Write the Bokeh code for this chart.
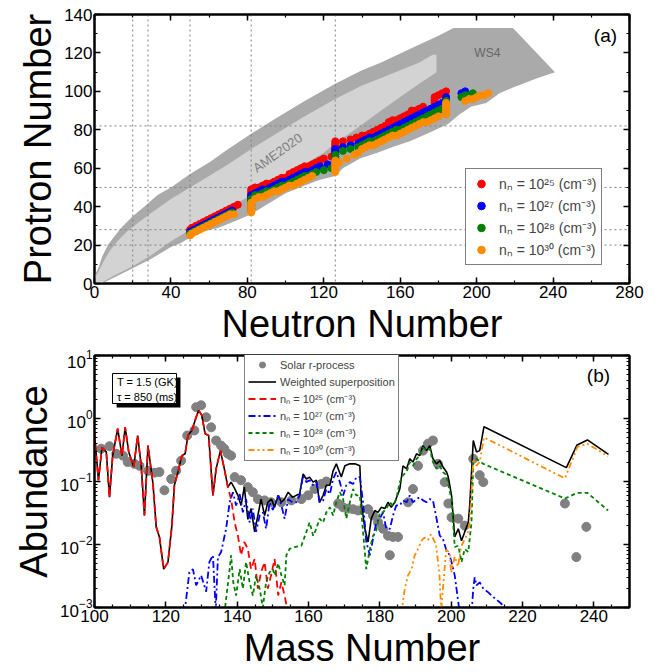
import numpy as np
from bokeh.plotting import figure
from bokeh.layouts import column
from bokeh.models import (Range1d, LinearAxis, LogAxis, Span, Legend, LegendItem, Label,
                          BoxAnnotation, SingleIntervalTicker, FixedTicker, LogTickFormatter,
                          CustomJSTickFormatter)
from bokeh.embed import file_html
from bokeh.resources import INLINE

FONT = "Liberation Sans"

# ---------------- panel (a) data ----------------
ws4_N = [0, 0, 2, 4, 7, 10, 14, 20, 26, 33, 40, 50, 60, 70, 82, 95, 110, 126, 140, 150,
         165, 180, 188, 219, 241, 232, 219, 212, 205, 197, 191, 185, 174, 165, 156, 148, 139, 130, 126, 118,
         110, 100, 90, 82, 75, 65, 57, 50, 45, 40, 30, 20, 10, 4]
ws4_Z = [0, 4, 8, 14, 20, 24, 29, 35, 40, 46, 50, 57, 63, 70, 78, 86, 95, 104, 111, 115,
         122, 129, 133, 133, 110, 107, 102, 99, 94, 92, 88, 83, 78, 74, 71, 68, 65, 60, 56, 54,
         51, 47, 41, 36, 33, 29, 27, 24, 21, 19, 13, 8, 3, 0]
ame_N = [0, 0, 2, 5, 8, 12, 17, 22, 30, 40, 50, 60, 70, 82, 95, 110, 126, 140, 150, 160,
         170, 177, 179, 179, 170, 160, 150, 139, 126, 120, 110, 100, 90, 82, 70, 60, 50, 40, 30, 20, 10, 3]
ame_Z = [0, 3, 6, 12, 17, 22, 27, 31, 37, 44, 50, 56, 62, 70, 78, 87, 96, 103, 107, 111,
         115, 119, 119, 110, 104, 97, 90, 82, 73, 68, 62, 56, 51, 46, 39, 33, 28, 22, 15, 9, 4, 0]
magic_N = [20, 28, 50, 82, 126]
magic_Z = [20, 28, 50, 82]

red_N = [50, 51, 53, 55, 57, 59, 61, 63, 65, 67, 69, 71, 73, 75,
         82, 82, 82, 82, 82, 82, 82, 82, 82,
         84, 86, 88, 90, 92, 94, 96, 98, 100, 102, 104, 106, 108, 110, 112, 114, 116, 118, 120, 124,
         126, 126, 126, 126, 126, 126, 126, 126,
         130, 134, 137, 140, 142, 144, 146, 148, 150, 152, 154, 156, 158, 160, 162, 164, 166, 168, 170, 172,
         178, 178, 178, 178, 180, 182, 184]
red_Z = [28, 29, 30, 31, 32, 33, 34, 35, 36, 37, 38, 39, 40, 41,
         41, 42, 43, 44, 45, 46, 47, 48, 49,
         50, 50, 51, 52, 52, 53, 54, 55, 55, 57, 58, 59, 60, 61, 61, 62, 63, 64, 65, 66,
         67, 68, 69, 70, 71, 72, 73, 74,
         74, 75, 76, 77, 77, 78, 79, 80, 81, 82, 84, 85, 85, 86, 87, 88, 90, 90, 91, 92,
         94, 95, 96, 97, 98, 99, 100]

blue_N = [50, 52, 54, 56, 58, 60, 62, 64, 66, 68, 70, 72,
          82, 82, 82, 82, 82, 82, 82, 82,
          84, 86, 88, 90, 92, 94, 96, 98, 100, 102, 104, 106, 108, 110, 112, 114, 116, 118, 122,
          126, 126, 126, 126, 126, 126, 126, 126,
          130, 134, 138, 140, 142, 144, 146, 148, 150, 152, 154, 156, 158, 160, 162, 164, 166, 168, 170, 172,
          174, 176, 178, 180, 182, 184, 184, 192, 194]
blue_Z = [27, 28, 29, 30, 31, 32, 33, 34, 35, 36, 37, 38,
          39, 40, 41, 42, 43, 44, 45, 46,
          47, 48, 49, 49, 50, 51, 52, 53, 53, 54, 55, 56, 57, 58, 58, 59, 60, 61, 62,
          63, 64, 65, 66, 67, 68, 69, 70,
          71, 72, 73, 74, 75, 76, 76, 77, 78, 79, 80, 81, 82, 83, 84, 85, 86, 87, 88, 89,
          90, 91, 92, 93, 94, 96, 97, 99, 100]

green_N = [50, 52, 54, 56, 58, 60, 62, 64, 66, 68, 70, 72,
           82, 82, 82, 82, 82, 82, 82,
           84, 86, 88, 90, 92, 94, 96, 98, 100, 102, 104, 106, 108, 110, 112, 114, 116, 120, 124,
           126, 126, 126, 126, 126, 126, 126,
           130, 134, 138, 140, 142, 144, 146, 148, 150, 152, 154, 156, 158, 160, 162, 164, 166, 168, 170, 172,
           174, 176, 178, 180, 182, 184, 184, 184, 184, 192, 194, 196, 198]
green_Z = [26, 27, 28, 29, 30, 31, 32, 33, 34, 35, 36, 37,
           38, 39, 40, 41, 42, 43, 44,
           46, 46, 47, 48, 48, 49, 50, 51, 51, 52, 53, 54, 55, 56, 56, 57, 58, 59, 60,
           61, 62, 63, 64, 65, 66, 67,
           69, 70, 71, 72, 73, 74, 74, 75, 76, 77, 78, 79, 80, 80, 81, 82, 83, 84, 85, 86,
           87, 88, 89, 90, 91, 92, 93, 94, 95, 97, 98, 98, 99]

orange_N = [50, 51, 53, 55, 57, 59, 61, 63, 65, 67, 69, 71, 73,
            82, 82, 82, 82, 82, 82,
            84, 86, 88, 90, 92, 94, 96, 98, 100, 102, 104, 106, 108, 110, 112, 114,
            126, 126, 126, 126, 126, 126, 126,
            128, 132, 136, 138, 140, 142, 144, 146, 148, 150, 152, 154, 156, 158, 160, 162, 164, 166, 168, 170,
            172, 174, 176, 178, 180, 184, 184, 184, 184, 184, 184, 184, 194, 196, 198, 200, 202, 204, 206]
orange_Z = [25, 26, 27, 28, 29, 30, 31, 32, 33, 34, 35, 36, 36,
            37, 38, 39, 40, 41, 42,
            44, 45, 45, 46, 47, 48, 48, 49, 50, 51, 51, 52, 53, 54, 55, 56,
            58, 59, 60, 61, 62, 63, 64,
            63, 65, 67, 68, 70, 71, 72, 72, 73, 74, 75, 76, 77, 77, 78, 79, 80, 81, 82, 83,
            84, 84, 85, 86, 87, 88, 89, 90, 91, 92, 93, 94, 95, 96, 96, 97, 98, 98, 99]

path_labels = ["nₙ = 10²⁵ (cm⁻³)", "nₙ = 10²⁷ (cm⁻³)", "nₙ = 10²⁸ (cm⁻³)", "nₙ = 10³⁰ (cm⁻³)"]

# ---------------- panel (b) data (abundances read as log10 values) ----------------
solar_A = [101.9, 104.2, 106.1, 108.0, 109.3, 111.2, 112.6, 115.0, 116.8, 118.2,
           119.6, 121.5, 122.9, 124.3, 126.0, 128.0, 128.5, 129.9, 131.3, 132.7,
           134.1, 135.5, 136.4, 137.4, 138.3, 139.3, 141.1, 143.0, 144.4, 145.8,
           147.7, 149.5, 152.4, 155.2, 158.0, 159.9, 161.7, 163.6, 165.0, 168.3,
           169.7, 171.1, 172.5, 173.9, 176.7, 178.1, 179.5, 180.9, 182.3, 182.8,
           183.7, 185.1, 187.9, 189.3, 190.7, 192.1, 193.5, 194.9, 196.3, 198.2,
           199.2, 200.1, 202.0, 203.8, 206.2, 208.0, 209.0, 231.9, 235.1, 237.9]
solar_log10 = [-0.48, -0.44, -0.56, -0.59, -0.69, -0.72, -0.75, -0.83, -0.86, -0.85,
               -1.14, -0.96, -0.83, -0.67, -0.27, -0.19, 0.18, 0.21, 0.02, -0.14,
               -0.35, -0.43, -0.48, -0.56, -0.59, -0.93, -0.98, -1.09, -1.17, -1.28,
               -1.30, -1.33, -1.33, -1.30, -1.28, -1.22, -1.12, -1.04, -1.00, -1.35,
               -1.41, -1.43, -1.44, -1.46, -1.44, -1.54, -1.65, -1.75, -1.86, -2.17,
               -1.88, -1.88, -1.33, -1.12, -0.75, -0.51, -0.40, -0.35, -0.72, -1.01,
               -1.35, -1.57, -1.59, -1.70, -0.64, -0.90, -1.01, -1.35, -2.20, -1.72]

black_A = [100.0, 101.1, 102.1, 103.3, 104.2, 105.1, 106.5, 107.7, 108.6, 109.6,
           111.0, 112.1, 113.1, 114.0, 115.0, 116.4, 117.3, 118.2, 119.4, 120.6,
           121.7, 122.4, 123.4, 124.5, 125.4, 126.2, 127.3, 128.2, 129.2, 130.1,
           131.0, 132.0, 133.2, 134.1, 135.3, 136.4, 137.4, 138.3, 139.2, 140.2,
           141.1, 142.0, 143.0, 143.9, 144.9, 145.8, 146.7, 147.7, 148.6, 149.6,
           150.5, 151.5, 152.4, 153.3, 154.3, 155.5, 156.6, 157.5, 158.5, 159.4,
           160.3, 161.3, 162.2, 163.1, 164.1, 165.0, 166.0, 166.9, 167.8, 169.2,
           170.2, 171.6, 173.0, 174.4, 174.8, 175.8, 176.7, 177.6, 178.6, 179.5,
           180.4, 181.4, 182.3, 183.2, 184.2, 185.6, 186.5, 187.5, 188.4, 189.3,
           190.3, 191.2, 192.1, 193.1, 194.0, 194.9, 195.9, 196.8, 197.7, 198.7,
           199.2, 200.1, 201.0, 202.0, 202.9, 203.8, 204.8, 205.2, 206.2, 207.1,
           208.0, 209.2, 232.3, 235.3, 238.2, 244.1]
black_log10 = [-0.24, -0.98, -0.46, -0.53, -1.25, -0.59, -0.16, -0.59, -0.14, -0.53,
               -0.77, -0.27, -0.75, -1.54, -0.43, -1.04, -1.72, -1.88, -2.39, -2.28,
               -1.70, -1.06, -0.85, -0.59, -0.56, -0.27, -0.19, -0.03, 0.13, 0.05,
               -0.24, -0.27, -1.22, -0.80, -0.51, -0.80, -1.09, -1.01, -1.10, -1.22,
               -1.38, -1.09, -1.60, -1.43, -1.80, -1.54, -1.28, -1.54, -1.33, -1.28,
               -1.41, -1.22, -1.33, -1.28, -1.17, -1.25, -1.22, -1.20, -0.88, -0.96,
               -0.93, -1.01, -0.98, -1.33, -1.22, -1.06, -1.06, -0.83, -0.72, -0.93,
               -0.75, -0.72, -0.72, -0.75, -1.33, -1.75, -1.96, -1.59, -1.46, -1.49,
               -1.41, -1.43, -1.33, -1.41, -1.33, -1.12, -0.75, -0.80, -0.64, -0.69,
               -0.56, -0.59, -0.43, -0.51, -0.43, -0.64, -0.72, -0.67, -0.77, -0.85,
               -0.93, -1.22, -1.88, -1.75, -1.94, -1.80, -1.65, -1.38, -0.35, -0.53,
               -0.51, -0.13, -0.78, -0.42, -0.34, -0.57]

red_A = [100.0, 101.1, 102.1, 103.3, 104.2, 105.1, 106.5, 107.7, 108.6, 109.6,
         111.0, 112.1, 113.1, 114.0, 115.0, 116.4, 117.3, 118.2, 119.4, 120.6,
         121.7, 122.4, 123.4, 124.5, 125.4, 126.2, 127.3, 128.2, 129.2, 130.1,
         131.0, 132.0, 133.2, 134.1, 135.3, 136.4, 137.4, 138.3, 139.3, 140.2,
         141.1, 142.0, 143.0, 143.9, 144.9, 145.8, 146.7, 147.7, 148.6, 149.5,
         150.5, 151.5, 152.4, 153.3, 154.3]
red_log10 = [-0.24, -0.98, -0.46, -0.53, -1.25, -0.59, -0.16, -0.59, -0.14, -0.53,
             -0.77, -0.27, -0.75, -1.54, -0.43, -1.04, -1.72, -1.88, -2.39, -2.28,
             -1.70, -1.06, -0.85, -0.59, -0.56, -0.27, -0.19, -0.03, 0.13, 0.05,
             -0.24, -0.27, -1.22, -0.80, -0.51, -0.80, -1.09, -1.28, -1.65, -1.86,
             -2.17, -1.96, -2.07, -2.39, -2.23, -2.70, -2.44, -2.28, -2.70, -2.49,
             -2.23, -2.81, -2.60, -2.81, -3.10]

blue_A = [125.2, 126.6, 127.6, 128.5, 129.9, 131.3, 132.2, 133.2, 134.0, 134.6,
          135.5, 136.9, 137.9, 138.8, 139.7, 140.7, 141.6, 142.5, 143.5, 144.4,
          145.3, 146.3, 147.2, 148.1, 149.1, 150.0, 151.5, 152.4, 153.3, 154.3,
          155.5, 156.6, 157.5, 158.5, 159.4, 160.3, 161.3, 162.2, 163.1, 164.1,
          165.0, 166.0, 166.9, 167.8, 168.8, 169.7, 170.6, 171.6, 172.5, 173.4,
          174.4, 175.3, 176.2, 177.2, 178.1, 179.0, 180.0, 180.9, 181.8, 182.8,
          183.7, 184.6, 185.6, 186.5, 187.5, 188.4, 189.3, 190.3, 191.2, 192.1,
          193.1, 194.0, 194.9, 195.9, 196.8, 197.7, 198.7, 199.6, 200.1, 201.0,
          202.0, 202.4, np.nan,
          205.7, 206.2, 206.6, 207.1, 208.0, 209.0, 210.4, 212.3, 214.1, 214.6]
blue_log10 = [-3.10, -2.44, -2.39, -2.65, -2.49, -2.75, -2.28, -2.17, -3.05, -2.20,
              -2.12, -1.75, -1.33, -1.17, -1.38, -1.20, -1.49, -1.28, -1.65, -1.43,
              -1.80, -1.54, -1.49, -1.75, -1.33, -1.45, -1.22, -1.38, -1.59, -1.28,
              -1.33, -1.33, -1.22, -0.90, -1.01, -0.98, -1.06, -1.01, -1.33, -1.30,
              -1.12, -1.20, -0.96, -0.85, -1.01, -1.22, -1.06, -1.01, -1.04, -0.93,
              -0.93, -1.33, -1.96, -2.17, -1.91, -1.65, -1.59, -1.49, -1.75, -1.75,
              -1.54, -1.38, -1.38, -1.30, -1.33, -1.22, -1.33, -1.28, -1.25, -1.30,
              -1.33, -1.28, -1.30, -1.59, -1.86, -1.91, -2.10, -2.17, -2.28, -2.49,
              -2.92, -3.10, np.nan,
              -3.10, -2.70, -2.52, -2.65, -2.60, -2.70, -2.76, -2.86, -2.94, -3.10]

green_A = [136.4, 137.9, 138.3, 138.9, 139.7, 140.7, 141.6, 142.5, 143.5, 144.4,
           145.3, 146.3, 147.2, 148.1, 149.1, 150.0, 150.5, 151.5, 152.4, 153.3,
           153.8, 154.7, 156.1, 158.0, 159.4, 160.3, 161.3, 162.2, 163.1, 164.1,
           165.0, 166.0, 166.9, 167.8, 168.8, 169.7, 170.6, 171.6, 172.5, 173.4,
           174.4, 175.3, 176.2, 177.2, 178.1, 179.0, 180.0, 180.9, 181.8, 182.8,
           183.7, 184.6, 185.6, 186.5, 187.5, 188.4, 189.3, 190.3, 191.2, 192.1,
           193.1, 194.0, 194.9, 195.9, 196.8, 197.7, 198.7, 199.2, 200.1, 201.0,
           202.0, 202.9, 203.8, 204.8, 205.7, 206.2, 207.1, 209.0, 231.9, 235.3,
           238.2, 244.0]
green_log10 = [-3.10, -2.39, -2.17, -2.60, -2.81, -2.39, -2.70, -2.28, -2.60, -2.81,
               -2.49, -2.70, -3.00, -2.60, -2.44, -2.39, -2.49, -2.30, -2.49, -2.65,
               -2.17, -2.07, -2.04, -2.02, -1.80, -1.65, -1.86, -1.75, -1.59, -1.65,
               -1.49, -1.41, -1.54, -1.33, -1.17, -1.28, -1.59, -1.33, -1.12, -1.22,
               -1.22, -1.80, -2.39, -2.07, -1.86, -1.78, -1.49, -1.49, -1.43, -1.33,
               -1.38, -1.28, -1.01, -0.90, -0.85, -0.69, -0.75, -0.64, -0.59, -0.46,
               -0.51, -0.48, -0.69, -0.80, -0.75, -0.85, -0.90, -1.06, -1.28, -2.04,
               -2.02, -2.28, -2.07, -2.12, -1.65, -0.69, -0.64, -0.72, -1.27, -1.18,
               -1.18, -1.46]

orange_A = [186.0, 187.0, 187.9, 188.9, 189.8, 190.7, 191.7, 192.5, 193.5, 194.3,
            195.7, 196.7, 197.2, 198.6, 199.6, 200.0, 201.0, 201.9, 202.8, 203.8,
            204.7, 205.2, 206.2, 207.1, 208.0, 209.2, 231.9, 235.4, 238.2, 244.0]
orange_log10 = [-3.10, -2.70, -2.49, -2.39, -2.17, -2.07, -1.94, -1.89, -1.93, -1.84,
                -1.99, -2.46, -3.05, -2.08, -2.13, -2.45, -2.19, -2.35, -2.03, -1.92,
                -1.81, -1.65, -0.64, -0.75, -0.69, -0.30, -0.95, -0.45, -0.40, -0.60]

line_labels = ["Solar r-process", "Weighted superposition"] + path_labels


def to_abund(logs):
    return np.power(10.0, np.array(logs, dtype=float))


def style_axis(ax, ticker, show_labels=True, formatter=None):
    ax.ticker = ticker
    if formatter is not None:
        ax.formatter = formatter
    ax.major_tick_in = 6
    ax.major_tick_out = 0
    ax.minor_tick_in = 3
    ax.minor_tick_out = 0
    ax.major_tick_line_width = 1.5
    ax.minor_tick_line_width = 1.2
    ax.major_tick_line_color = "black"
    ax.minor_tick_line_color = "black"
    ax.axis_line_width = 2
    ax.axis_line_color = "black"
    ax.major_label_text_font = FONT
    ax.major_label_text_font_size = "17px"
    ax.major_label_text_color = "black"
    ax.major_label_standoff = 2
    ax.axis_label_text_font = FONT
    ax.axis_label_text_font_size = "38px"
    ax.axis_label_text_font_style = "normal"
    ax.axis_label_text_color = "black"
    ax.axis_label_standoff = 2
    if not show_labels:
        ax.formatter = CustomJSTickFormatter(code="return ''")
        ax.major_label_standoff = 0


# ================= panel (a) =================
p1 = figure(width=668, height=349, x_range=Range1d(0, 280), y_range=Range1d(0, 140),
            output_backend="svg", toolbar_location=None,
            min_border_left=94, min_border_right=39, min_border_top=14, min_border_bottom=66)
p1.grid.visible = False
p1.outline_line_color = "black"
p1.outline_line_width = 2
p1.background_fill_color = "white"
p1.border_fill_color = "white"

r_ws4 = p1.patch(ws4_N, ws4_Z, fill_color="#aaaaaa", line_color=None)
r_ws4.level = "image"
r_ame = p1.patch(ame_N, ame_Z, fill_color="#d3d3d3", line_color=None)
r_ame.level = "image"

for n in magic_N:
    p1.add_layout(Span(location=n, dimension="height", line_color="#808080",
                       line_dash="2 3", line_width=1, level="underlay"))
for z in magic_Z:
    p1.add_layout(Span(location=z, dimension="width", line_color="#808080",
                       line_dash="2 3", line_width=1, level="underlay"))

path_renderers = []
for N, Z, col in [(red_N, red_Z, "#ff0000"), (blue_N, blue_Z, "#0000ff"),
                  (green_N, green_Z, "#008000"), (orange_N, orange_Z, "#ff8c00")]:
    path_renderers.append(p1.scatter(N, Z, size=7, fill_color=col, line_color=col))

style_axis(p1.xaxis[0], SingleIntervalTicker(interval=40, num_minor_ticks=2))
style_axis(p1.yaxis[0], SingleIntervalTicker(interval=20, num_minor_ticks=2))
p1.xaxis[0].axis_label = "Neutron Number"
p1.yaxis[0].axis_label = "Protron Number"
ax_top = LinearAxis()
style_axis(ax_top, SingleIntervalTicker(interval=40, num_minor_ticks=2), show_labels=False)
p1.add_layout(ax_top, "above")
ax_right = LinearAxis()
style_axis(ax_right, SingleIntervalTicker(interval=20, num_minor_ticks=2), show_labels=False)
p1.add_layout(ax_right, "right")

p1.add_layout(Label(x=205.6, y=120.2, text="WS4", text_font=FONT, text_font_size="12px",
                    text_color="#666666", text_align="center", text_baseline="middle"))
p1.add_layout(Label(x=95.8, y=68.0, text="AME2020", angle=0.62, text_font=FONT,
                    text_font_size="13px", text_color="#808080", text_align="center",
                    text_baseline="middle"))
p1.add_layout(Label(x=267.4, y=129.0, text="(a)", text_font=FONT, text_font_size="19px",
                    text_color="black", text_align="center", text_baseline="middle"))

leg1 = Legend(items=[LegendItem(label=lab, renderers=[r])
                     for lab, r in zip(path_labels, path_renderers)],
              location=(371, 18), margin=0, padding=5, spacing=3,
              glyph_width=20, glyph_height=19, label_height=19, label_standoff=8,
              label_text_font=FONT, label_text_font_size="14px",
              border_line_color="black", border_line_width=1,
              background_fill_color="white", background_fill_alpha=1.0)
p1.add_layout(leg1)

# ================= panel (b) =================
p2 = figure(width=668, height=323, x_range=Range1d(100, 250), y_range=Range1d(1e-3, 10),
            y_axis_type="log", output_backend="svg", toolbar_location=None,
            min_border_left=93, min_border_right=39, min_border_top=6, min_border_bottom=65)
p2.grid.visible = False
p2.outline_line_color = "black"
p2.outline_line_width = 2
p2.background_fill_color = "white"
p2.border_fill_color = "white"

r_solar = p2.scatter(solar_A, to_abund(solar_log10), size=9, fill_color="#808080",
                     line_color="#808080")
r_black = p2.line(black_A, to_abund(black_log10), line_color="black", line_width=1.6)
r_red = p2.line(red_A, to_abund(red_log10), line_color="#ff0000", line_width=1.8,
                line_dash="7 4")
r_blue = p2.line(blue_A, to_abund(blue_log10), line_color="#0000ff", line_width=1.8,
                 line_dash="7 3 2 3")
r_green = p2.line(green_A, to_abund(green_log10), line_color="#008000", line_width=1.8,
                  line_dash="4 3")
r_orange = p2.line(orange_A, to_abund(orange_log10), line_color="#ff8c00", line_width=1.8,
                   line_dash="6 3 2 3 2 3")

log_major = [1e-3, 1e-2, 1e-1, 1.0, 10.0]
log_minor = [m * 10.0 ** e for e in range(-3, 1) for m in range(2, 10)]
style_axis(p2.xaxis[0], SingleIntervalTicker(interval=20, num_minor_ticks=4))
style_axis(p2.yaxis[0], FixedTicker(ticks=log_major, minor_ticks=log_minor),
           formatter=LogTickFormatter())
p2.xaxis[0].axis_label = "Mass Number"
p2.yaxis[0].axis_label = "Abundance"
ax2_top = LinearAxis()
style_axis(ax2_top, SingleIntervalTicker(interval=20, num_minor_ticks=4), show_labels=False)
p2.add_layout(ax2_top, "above")
ax2_right = LogAxis()
style_axis(ax2_right, FixedTicker(ticks=log_major, minor_ticks=log_minor), show_labels=False)
p2.add_layout(ax2_right, "right")

# parameter box with shadow
p2.add_layout(BoxAnnotation(left=106.2, right=124.1, bottom=1.50, top=4.47,
                            fill_color="black", fill_alpha=1.0, line_color=None))
p2.add_layout(BoxAnnotation(left=105.05, right=123.0, bottom=1.73, top=5.18,
                            fill_color="white", fill_alpha=1.0, line_color="black",
                            line_width=1, line_alpha=1.0))
p2.add_layout(Label(x=106.3, y=3.86, text="T = 1.5 (GK)", text_font=FONT,
                    text_font_size="11px", text_color="black", text_align="left",
                    text_baseline="middle"))
p2.add_layout(Label(x=106.3, y=2.23, text="τ = 850 (ms)", text_font=FONT,
                    text_font_size="11px", text_color="black", text_align="left",
                    text_baseline="middle"))
p2.add_layout(Label(x=241.3, y=4.8, text="(b)", text_font=FONT, text_font_size="19px",
                    text_color="black", text_align="center", text_baseline="middle"))

leg2 = Legend(items=[LegendItem(label=lab, renderers=[r]) for lab, r in
                     zip(line_labels, [r_solar, r_black, r_red, r_blue, r_green, r_orange])],
              location=(150, 146), margin=0, padding=3, spacing=2,
              glyph_width=28, glyph_height=15, label_height=15, label_standoff=4,
              label_text_font=FONT, label_text_font_size="11px",
              border_line_color="black", border_line_width=1,
              background_fill_color="white", background_fill_alpha=1.0)
p2.add_layout(leg2)

layout = column(p1, p2, spacing=0)
open("out.html", "w").write(file_html(layout, INLINE))
